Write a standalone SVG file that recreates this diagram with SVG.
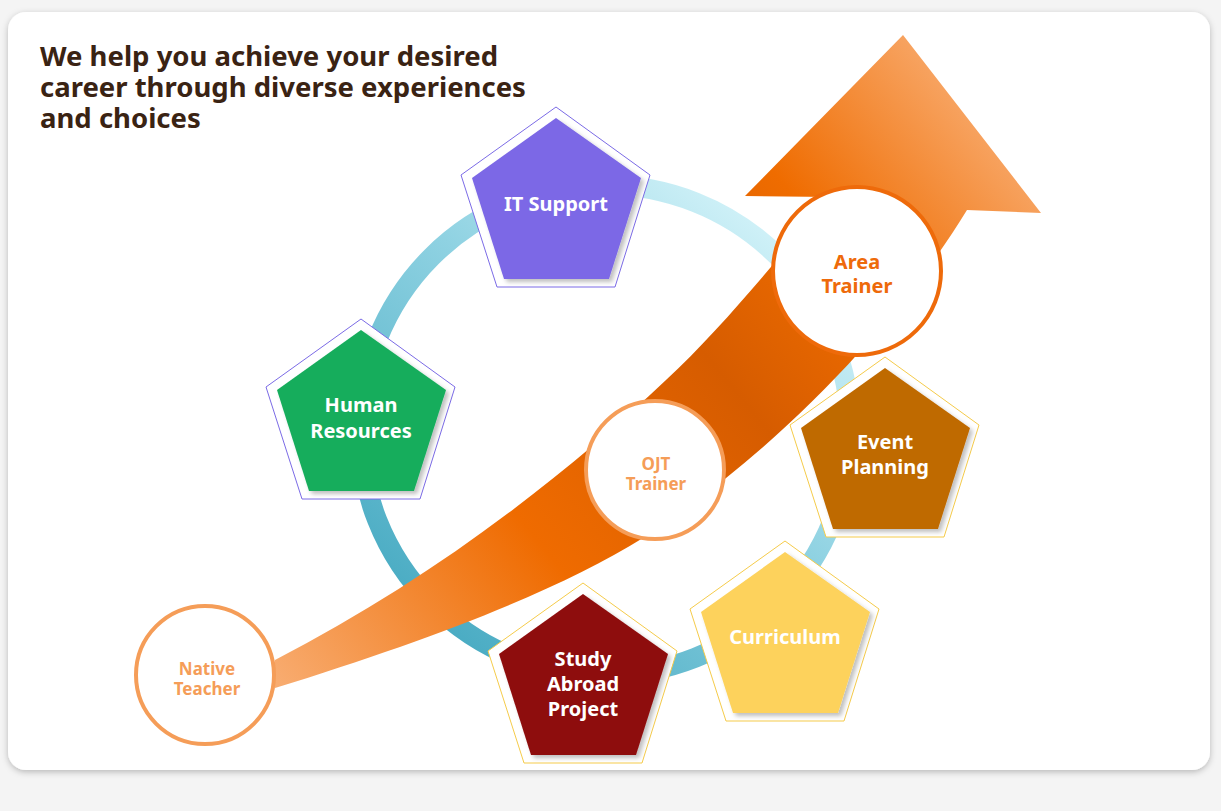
<svg xmlns="http://www.w3.org/2000/svg" width="1221" height="811" viewBox="0 0 1221 811">
<defs>
<linearGradient id="ring" gradientUnits="userSpaceOnUse" x1="800" y1="200" x2="420" y2="640"><stop offset="0" stop-color="#dcf7fc"/><stop offset="0.45" stop-color="#8fd2e2"/><stop offset="1" stop-color="#45a9c1"/></linearGradient>
<linearGradient id="arw" gradientUnits="userSpaceOnUse" x1="275" y1="690" x2="1041" y2="60"><stop offset="0" stop-color="#f8ad72"/><stop offset="0.3" stop-color="#ef6b00"/><stop offset="0.55" stop-color="#d65c00"/><stop offset="0.72" stop-color="#ef6c00"/><stop offset="1" stop-color="#fbbd8e"/></linearGradient>
<filter id="sh" x="-10%" y="-10%" width="130%" height="130%"><feDropShadow dx="3" dy="3" stdDeviation="2" flood-color="#000" flood-opacity="0.25"/></filter>
<filter id="card" x="-5%" y="-5%" width="110%" height="110%"><feDropShadow dx="0" dy="2" stdDeviation="3" flood-color="#000" flood-opacity="0.25"/></filter>
<polygon id="outer" points="0,0 94,68 59,180 -59,180 -95,68"/>
<polygon id="inner" points="0,0 85,60 53,161 -52,161 -84,60"/>
</defs>
<style>
.o{fill:#fff;stroke-width:1}
.pl{stroke:#7b6be6}.yl{stroke:#f5cb4a}
.t{font-family:"Noto Sans","Open Sans",sans-serif;font-weight:700;text-anchor:middle}
.w{fill:#fff;font-size:20px}
.c{fill:#fff;stroke-width:4}
</style>
<rect width="1221" height="811" fill="#f4f4f4"/>
<rect x="8" y="12" width="1202" height="758" rx="18" fill="#fff" filter="url(#card)"/>
<g id="title" class="t" style="text-anchor:start;font-size:27.5px" fill="#3a2313">
<text x="40" y="66">We help you achieve your desired</text>
<text x="40" y="97">career through diverse experiences</text>
<text x="40" y="128">and choices</text>
</g>
<g id="connectors">
<circle cx="605" cy="430" r="245" fill="none" stroke="url(#ring)" stroke-width="20"/>
<path d="M275,660 C430,580 560,480 666,380 C720,330 775,262 830,197 L745,196 L903,35 L1041,213 L967,210 C900,320 780,450 643,538 C560,590 430,640 275,688 Z" fill="url(#arw)"/>
</g>
<g id="it-support"><use href="#outer" x="556" y="107" class="o pl"/><use href="#inner" x="556" y="118" fill="#7b68e6" filter="url(#sh)"/><text class="t w" x="556" y="211">IT Support</text></g>
<g id="human-resources"><use href="#outer" x="361" y="319" class="o pl"/><use href="#inner" x="361" y="330" fill="#17ad5c" filter="url(#sh)"/><text class="t w" x="361" y="412">Human</text><text class="t w" x="361" y="438">Resources</text></g>
<g id="event-planning"><use href="#outer" x="885" y="357" class="o yl"/><use href="#inner" x="885" y="368" fill="#bf6a04" filter="url(#sh)"/><text class="t w" x="885" y="449">Event</text><text class="t w" x="885" y="474">Planning</text></g>
<g id="curriculum"><use href="#outer" x="785" y="541" class="o yl"/><use href="#inner" x="785" y="552" fill="#fdd25c" filter="url(#sh)"/><text class="t w" x="785" y="644">Curriculum</text></g>
<g id="study-abroad"><use href="#outer" x="583" y="583" class="o yl"/><use href="#inner" x="583" y="594" fill="#8e0c0c" filter="url(#sh)"/><text class="t w" x="583" y="666">Study</text><text class="t w" x="583" y="691">Abroad</text><text class="t w" x="583" y="716">Project</text></g>
<g id="area-trainer"><circle cx="857" cy="271" r="84" class="c" stroke="#ee6a0a"/><text class="t" x="857" y="269" font-size="20" fill="#ee6a0a">Area</text><text class="t" x="857" y="293" font-size="20" fill="#ee6a0a">Trainer</text></g>
<g id="ojt-trainer"><circle cx="655" cy="470" r="69" class="c" stroke="#f59d58"/><text class="t" x="656" y="470" font-size="17" fill="#f59d58">OJT</text><text class="t" x="656" y="490" font-size="17" fill="#f59d58">Trainer</text></g>
<g id="native-teacher"><circle cx="205" cy="675" r="69" class="c" stroke="#f59d58"/><text class="t" x="207" y="675" font-size="17" fill="#f59d58">Native</text><text class="t" x="207" y="695" font-size="17" fill="#f59d58">Teacher</text></g>
</svg>
